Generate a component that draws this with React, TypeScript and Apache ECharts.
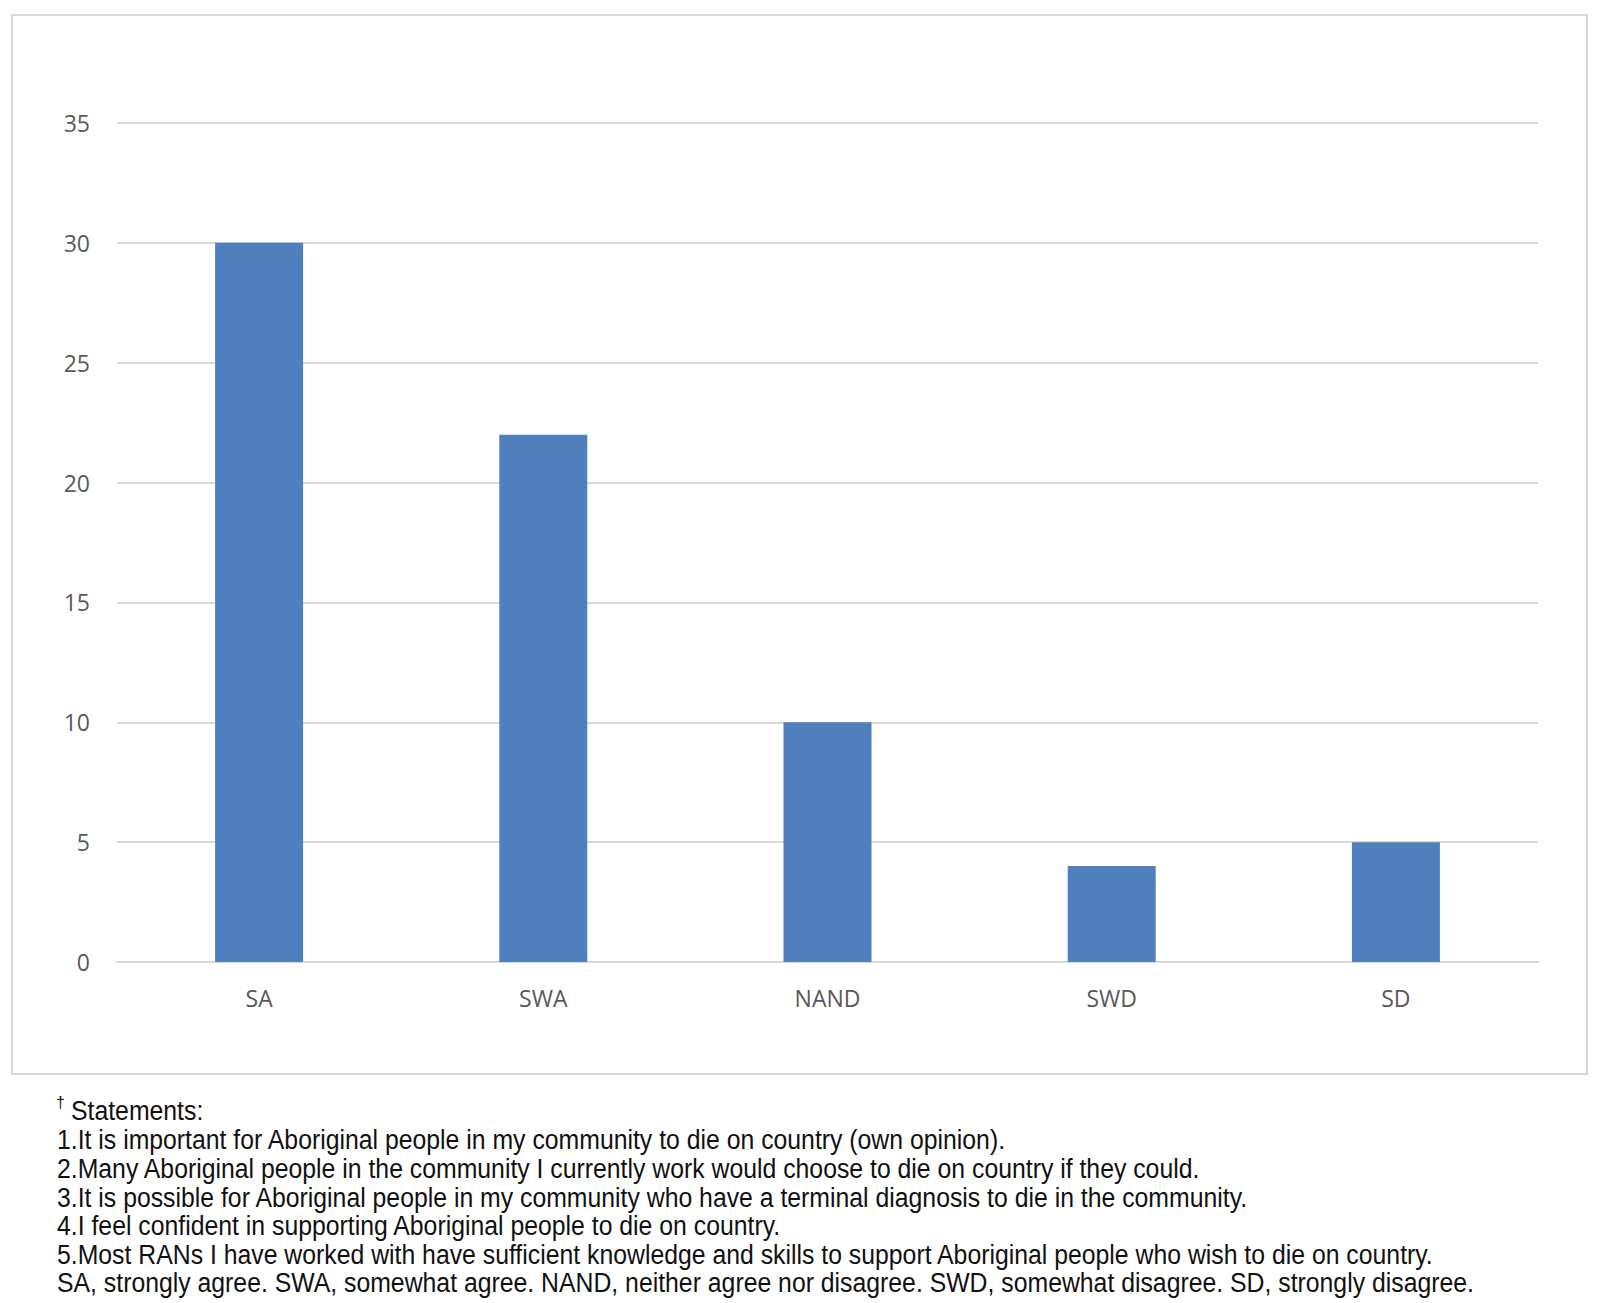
import React, { useEffect, useRef } from "react";
import * as echarts from "echarts";

const categories = ["SA", "SWA", "NAND", "SWD", "SD"];
const counts = [30, 22, 10, 4, 5];
const yMax = 35;
const yStep = 5;

const footnoteTitle = "Statements:";
const footnoteLines = [
  "1.It is important for Aboriginal people in my community to die on country (own opinion).",
  "2.Many Aboriginal people in the community I currently work would choose to die on country if they could.",
  "3.It is possible for Aboriginal people in my community who have a terminal diagnosis to die in the community.",
  "4.I feel confident in supporting Aboriginal people to die on country.",
  "5.Most RANs I have worked with have sufficient knowledge and skills to support Aboriginal people who wish to die on country.",
  "SA, strongly agree. SWA, somewhat agree. NAND, neither agree nor disagree. SWD, somewhat disagree. SD, strongly disagree.",
];

export default function App() {
  const ref = useRef<HTMLDivElement>(null);
  useEffect(() => {
    document.body.style.margin = "0";
    const chart = echarts.init(ref.current!, null, { renderer: "svg" });
    const footFont = "'Liberation Sans', Arial, sans-serif";
    const footColor = "#111111";
    const footSize = 27;
    const squeeze = 24.8 / footSize;
    const lineY0 = 1140;
    const lineGap = 28.6;
    const graphics: any[] = [
      {
        type: "rect",
        shape: { x: 12, y: 15, width: 1575, height: 1059 },
        style: { fill: "none", stroke: "#d9d9d9", lineWidth: 2 },
        z: -1,
      },
      {
        type: "text",
        x: 56,
        y: 1102,
        style: { text: "†", font: `16px ${footFont}`, fill: footColor, textVerticalAlign: "middle" },
      },
      {
        type: "text",
        x: 71,
        y: 1111,
        scaleX: squeeze,
        style: { text: footnoteTitle, font: `${footSize}px ${footFont}`, fill: footColor, textVerticalAlign: "middle" },
      },
    ];
    footnoteLines.forEach((t, i) => {
      graphics.push({
        type: "text",
        x: 57,
        y: lineY0 + i * lineGap,
        scaleX: squeeze,
        style: { text: t, font: `${footSize}px ${footFont}`, fill: footColor, textVerticalAlign: "middle" },
      });
    });
    chart.setOption({
      animation: false,
      backgroundColor: "#ffffff",
      grid: { left: 117, right: 62, top: 123, bottom: 341, containLabel: false },
      xAxis: {
        type: "category",
        data: categories,
        axisLine: { show: true, lineStyle: { color: "#d9d9d9", width: 2 } },
        axisTick: { show: false },
        axisLabel: {
          color: "#595959",
          fontSize: 23,
          fontFamily: "'Open Sans', 'Noto Sans', sans-serif",
          margin: 24,
        },
      },
      yAxis: {
        type: "value",
        min: 0,
        max: yMax,
        interval: yStep,
        axisLine: { show: false },
        axisTick: { show: false },
        splitLine: { lineStyle: { color: "#d9d9d9", width: 2 } },
        axisLabel: {
          color: "#595959",
          fontSize: 23,
          fontFamily: "'Open Sans', 'Noto Sans', sans-serif",
          margin: 27,
        },
      },
      series: [
        {
          type: "bar",
          data: counts,
          barWidth: 88,
          itemStyle: { color: "#4f80bd" },
        },
      ],
      graphic: graphics,
    });
    return () => chart.dispose();
  }, []);
  return <div ref={ref} style={{ width: 1600, height: 1303 }} />;
}
